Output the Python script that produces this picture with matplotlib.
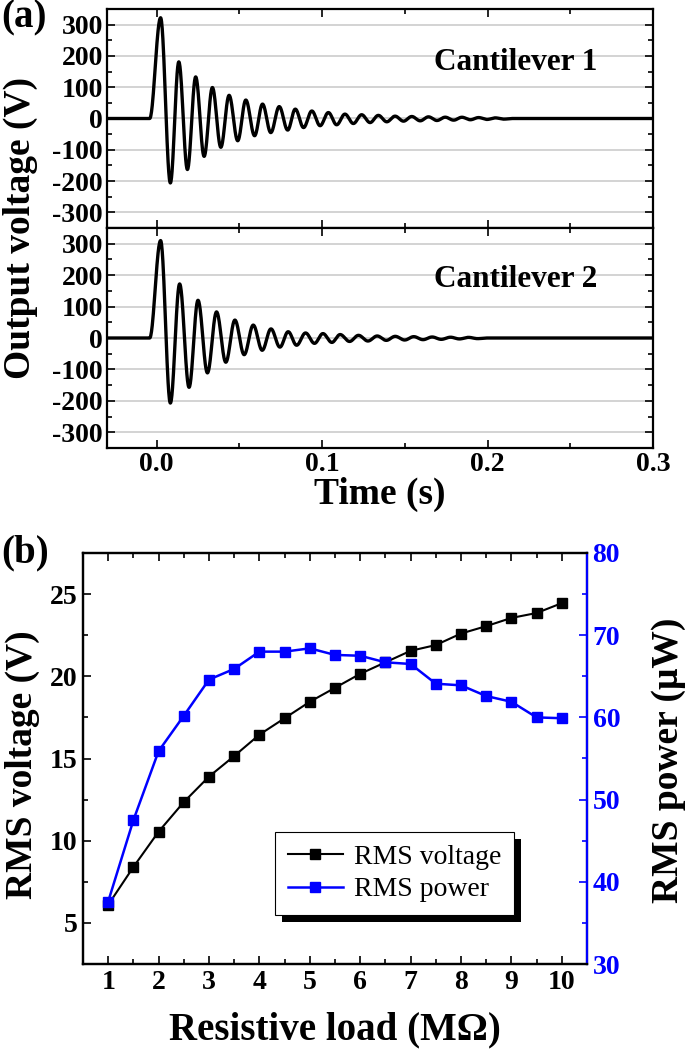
import matplotlib
matplotlib.use("Agg")
import matplotlib.pyplot as plt
import matplotlib.patheffects as pe
from matplotlib.ticker import MultipleLocator
import numpy as np

plt.rcParams['font.family'] = ['Liberation Serif', 'DejaVu Serif']
plt.rcParams['font.weight'] = 'bold'
plt.rcParams['axes.labelweight'] = 'bold'
plt.rcParams['axes.unicode_minus'] = False

# (a) extrema of the decaying output voltage
t_cant1 = [-0.030, -0.0042, 0.0024, 0.0083, 0.0134, 0.0186, 0.0236, 0.0287, 0.0337, 0.0388,
           0.0438, 0.0490, 0.0539, 0.0592, 0.0640, 0.0690, 0.0741, 0.0792, 0.0838, 0.0888,
           0.0938, 0.0988, 0.1038, 0.1088, 0.1138, 0.1189, 0.1239, 0.1290, 0.1340, 0.1391,
           0.1441, 0.1492, 0.1542, 0.1593, 0.1643, 0.1694, 0.1744, 0.1795, 0.1845, 0.1896,
           0.1946, 0.1997, 0.2047, 0.2098, 0.215, 0.300]
v_cant1 = [0, 0, 322, -206, 181, -163, 133, -121, 99, -92,
           74, -71, 59, -55, 46, -45, 38, -37, 30, -29,
           24, -23, 19, -20, 14, -16, 12, -13, 10, -10.5,
           7.5, -8.5, 6.4, -7.4, 5.3, -6.4, 4.2, -5.3, 4, -4,
           3, -3, 2, -2, 0, 0]

t_cant2 = [-0.030, -0.0042, 0.0024, 0.0083, 0.0139, 0.0196, 0.0250, 0.0307, 0.0362, 0.0418,
           0.0473, 0.0529, 0.0584, 0.0638, 0.0691, 0.0745, 0.0795, 0.0846, 0.0900, 0.0954,
           0.1005, 0.1059, 0.1109, 0.1166, 0.1220, 0.1277, 0.1333, 0.1388, 0.1442, 0.1499,
           0.1554, 0.1610, 0.1665, 0.1720, 0.1776, 0.1830, 0.1885, 0.1940, 0.200, 0.300]
v_cant2 = [0, 0, 310, -207, 172, -157, 120, -111, 83, -77,
           57, -53, 41, -39, 29, -29, 20, -23, 16, -17,
           14, -14, 11, -11, 8.5, -9.6, 6.4, -7.5, 5.3, -6.4,
           4.3, -5.3, 3.2, -4.3, 2.5, -3, 2, -2, 0, 0]

# (b) RMS values vs load
load = [1, 1.5, 2, 2.5, 3, 3.5, 4, 4.5, 5, 5.5, 6, 6.5, 7, 7.5, 8, 8.5, 9, 9.5, 10]
v_rms = [6.1, 8.4, 10.55, 12.35, 13.9, 15.15, 16.45, 17.45, 18.45, 19.3,
         20.15, 20.85, 21.55, 21.9, 22.6, 23.05, 23.55, 23.85, 24.45]
p_rms = [37.6, 47.5, 55.9, 60.2, 64.6, 65.9, 68.0, 68.0, 68.4, 67.6,
         67.5, 66.7, 66.5, 64.1, 63.9, 62.6, 61.9, 60.0, 59.9]

labels = ['Cantilever 1', 'Cantilever 2']


def smooth_trace(t_ext, v_ext, n=30):
    # join extrema with half-cosine segments so the trace looks like the scope line
    ts, vs = [], []
    for i in range(len(t_ext) - 1):
        s = np.linspace(0, 1, n, endpoint=False)
        ts.append(t_ext[i] + (t_ext[i + 1] - t_ext[i]) * s)
        vs.append(v_ext[i] + (v_ext[i + 1] - v_ext[i]) * (1 - np.cos(np.pi * s)) / 2)
    ts.append([t_ext[-1]])
    vs.append([v_ext[-1]])
    return np.concatenate(ts), np.concatenate(vs)


fig = plt.figure(figsize=(6.85, 10.5), dpi=100)

W, H = 685, 1050
def box(l, t, r, b):
    return [l / W, 1 - b / H, (r - l) / W, (b - t) / H]

TICK_FS = 20

ax1 = fig.add_axes(box(107, 9, 653, 228))
ax2 = fig.add_axes(box(107, 228, 653, 448), sharex=ax1)

text_y = [178, 185]
for ax, t, v, lab, ty in zip([ax1, ax2], [t_cant1, t_cant2], [v_cant1, v_cant2], labels, text_y):
    x, y = smooth_trace(t, v)
    for g in range(-300, 301, 100):
        ax.axhline(g, color='#cccccc', lw=1.2, zorder=0)
    ax.plot(x, y, color='black', lw=2.4)
    ax.set_ylim(-350, 350)
    ax.set_xlim(-0.03, 0.3)
    ax.yaxis.set_major_locator(MultipleLocator(100))
    ax.yaxis.set_minor_locator(MultipleLocator(50))
    ax.xaxis.set_major_locator(MultipleLocator(0.1))
    ax.xaxis.set_minor_locator(MultipleLocator(0.05))
    ax.tick_params(which='both', direction='in', top=True, right=True, width=1.2,
                   labelsize=TICK_FS, pad=3)
    ax.tick_params(which='major', length=6)
    ax.tick_params(which='minor', length=3.5)
    for sp in ax.spines.values():
        sp.set_linewidth(1.6)
    ax.text(0.217, ty, lab, fontsize=22.5, ha='center', va='center')

ax1.tick_params(labelbottom=False)
ax2.set_xticks([0.0, 0.1, 0.2, 0.3])
ax2.set_xticklabels(['0.0', '0.1', '0.2', '0.3'])

fig.text(20 / W, 1 - 228 / H, 'Output voltage (V)', rotation=90, fontsize=27,
         ha='center', va='center')
fig.text(380 / W, 1 - 494 / H, 'Time (s)', fontsize=27, ha='center', va='center')
fig.text(1 / W, 1 - 18 / H, '(a)', fontsize=28, ha='left', va='center')

# ---- (b)
ax3 = fig.add_axes(box(83, 553, 587, 964))
ax4 = ax3.twinx()

ax3.plot(load, v_rms, color='black', lw=1.5, marker='s', ms=7.5, label='RMS voltage')
ax4.plot(load, p_rms, color='blue', lw=1.8, marker='s', ms=7.5, label='RMS power')

ax3.set_xlim(0.5, 10.5)
ax3.set_ylim(2.5, 27.5)
ax4.set_ylim(30, 80)
ax3.xaxis.set_major_locator(MultipleLocator(1))
ax3.xaxis.set_minor_locator(MultipleLocator(0.5))
ax3.yaxis.set_major_locator(MultipleLocator(5))
ax3.yaxis.set_minor_locator(MultipleLocator(2.5))
ax4.yaxis.set_major_locator(MultipleLocator(10))
ax4.yaxis.set_minor_locator(MultipleLocator(5))

ax3.tick_params(which='both', direction='in', top=True, right=False, width=1.2,
                labelsize=TICK_FS, pad=4)
ax3.tick_params(which='major', length=6)
ax3.tick_params(which='minor', length=3.5)
ax4.tick_params(which='both', direction='in', width=1.2, colors='blue', labelsize=TICK_FS, pad=4)
ax4.tick_params(which='major', length=6)
ax4.tick_params(which='minor', length=3.5)
for sp in ax3.spines.values():
    sp.set_linewidth(1.6)
for sp in ax4.spines.values():
    sp.set_linewidth(1.6)
ax4.spines['right'].set_color('blue')

fig.text(335 / W, 1 - 1030 / H, 'Resistive load (M\u03a9)', fontsize=28, ha='center', va='center')
fig.text(22 / W, 1 - 765 / H, 'RMS voltage (V)', rotation=90, fontsize=27,
         ha='center', va='center')
fig.text(668 / W, 1 - 760 / H, 'RMS power (\u03bcW)', rotation=90, fontsize=27,
         ha='center', va='center')
fig.text(1 / W, 1 - 553 / H, '(b)', fontsize=28, ha='left', va='center')

h1, l1 = ax3.get_legend_handles_labels()
h2, l2 = ax4.get_legend_handles_labels()
leg = ax4.legend(h1 + h2, l1 + l2, loc='upper left', bbox_to_anchor=(275 / W, 1 - 832 / H),
                 bbox_transform=fig.transFigure, borderaxespad=0, numpoints=1,
                 fancybox=False, framealpha=1, edgecolor='black', handlelength=2.0,
                 handletextpad=0.4, borderpad=0.45, labelspacing=0.25,
                 prop={'family': 'Liberation Serif', 'weight': 'normal', 'size': 20})
leg.get_frame().set_linewidth(0.8)
leg.get_frame().set_path_effects([pe.SimplePatchShadow(offset=(5, -5), shadow_rgbFace='black', alpha=1),
                                  pe.Normal()])

fig.savefig('out.png', dpi=100)
